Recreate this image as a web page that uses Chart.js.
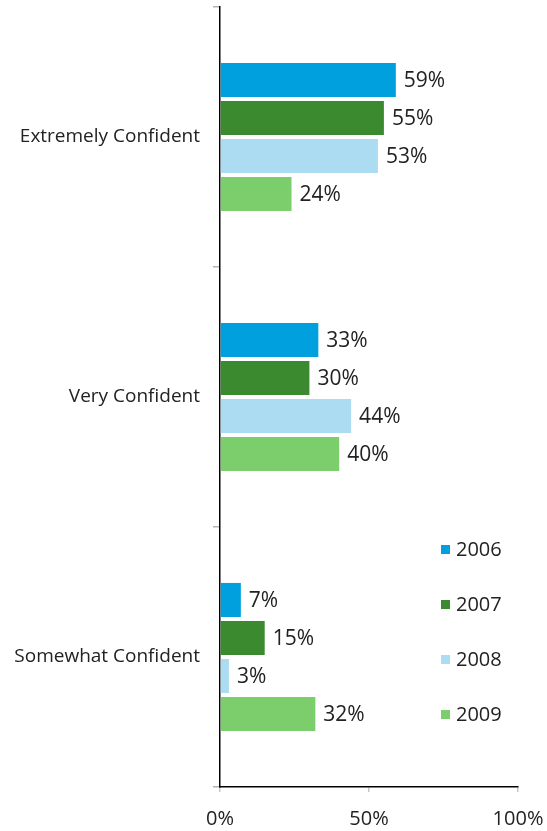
<!DOCTYPE html>
<html>
<head>
<meta charset="utf-8">
<script src="https://cdn.jsdelivr.net/npm/chart.js@4/dist/chart.umd.min.js"></script>
<style>
  html, body { margin: 0; padding: 0; background: #fff; }
  #wrap { position: relative; width: 547px; height: 831px; }
  #legend { position: absolute; left: 440px; top: 0; font-family: "Open Sans", sans-serif; font-size: 20px; color: #222; }
  .li { position: absolute; left: 0; white-space: nowrap; height: 24px; line-height: 24px; }
  .sw { position: absolute; left: 1px; top: 8px; width: 9px; height: 9px; }
  .lt { position: absolute; left: 16px; top: 0; }
</style>
</head>
<body>
<div id="wrap">
  <canvas id="c" width="547" height="831"></canvas>
  <div id="legend"></div>
</div>
<script>
const categories = ["Extremely Confident", "Very Confident", "Somewhat Confident"];
const seriesNames = ["2006", "2007", "2008", "2009"];
const values2006 = [59, 33, 7];
const values2007 = [55, 30, 15];
const values2008 = [53, 44, 3];
const values2009 = [24, 40, 32];
const xTickValues = [0, 50, 100];
const colors = ["#00a0df", "#3b8a2f", "#abdcf2", "#7ccd6c"];

const seriesValues = [values2006, values2007, values2008, values2009];
const FONT = '"Open Sans", sans-serif';

const valueLabels = {
  id: 'valueLabels',
  afterDatasetsDraw(chart) {
    const ctx = chart.ctx;
    ctx.save();
    ctx.font = '21px ' + FONT;
    ctx.fillStyle = '#222';
    ctx.textAlign = 'left';
    ctx.textBaseline = 'middle';
    chart.data.datasets.forEach((ds, di) => {
      const meta = chart.getDatasetMeta(di);
      meta.data.forEach((bar, i) => {
        ctx.fillText(ds.data[i] + '%', bar.x + 8, bar.y + 1);
      });
    });
    ctx.restore();
  }
};

new Chart(document.getElementById('c'), {
  type: 'bar',
  data: {
    labels: categories,
    datasets: seriesNames.map((n, i) => ({
      label: n,
      data: seriesValues[i],
      backgroundColor: colors[i],
      borderWidth: 0,
      categoryPercentage: 0.585,
      barPercentage: 0.895
    }))
  },
  options: {
    indexAxis: 'y',
    responsive: false,
    animation: false,
    layout: { padding: { top: 7, right: 29, left: 0, bottom: 0 } },
    plugins: { legend: { display: false }, tooltip: { enabled: false } },
    scales: {
      x: {
        min: 0, max: 100,
        afterBuildTicks(scale) { scale.ticks = xTickValues.map(v => ({ value: v })); },
        afterFit(scale) { scale.height = 44; scale.paddingLeft = 0; scale.paddingRight = 0; },
        border: { display: true, color: '#000', width: 1.5 },
        grid: { drawOnChartArea: false, drawTicks: true, tickLength: 5, color: '#c8c8c8', lineWidth: 1.5 },
        ticks: { font: { family: FONT, size: 20 }, color: '#222', padding: 15, maxRotation: 0, callback: v => v + '%' }
      },
      y: {
        afterFit(scale) { scale.width = 220; scale.paddingTop = 0; scale.paddingBottom = 0; },
        border: { display: true, color: '#000', width: 1.5 },
        grid: { drawOnChartArea: false, drawTicks: true, tickLength: 7, color: '#b4b4b4', lineWidth: 1.5, offset: true },
        ticks: { font: { family: FONT, size: 19 }, color: '#222', padding: 13 }
      }
    }
  },
  plugins: [valueLabels]
});

const legend = document.getElementById('legend');
const legendTops = [537, 592, 647, 702];
seriesNames.forEach((n, i) => {
  const d = document.createElement('div');
  d.className = 'li';
  d.style.top = legendTops[i] + 'px';
  d.innerHTML = '<span class="sw" style="background:' + colors[i] + '"></span><span class="lt">' + n + '</span>';
  legend.appendChild(d);
});
</script>
</body>
</html>
